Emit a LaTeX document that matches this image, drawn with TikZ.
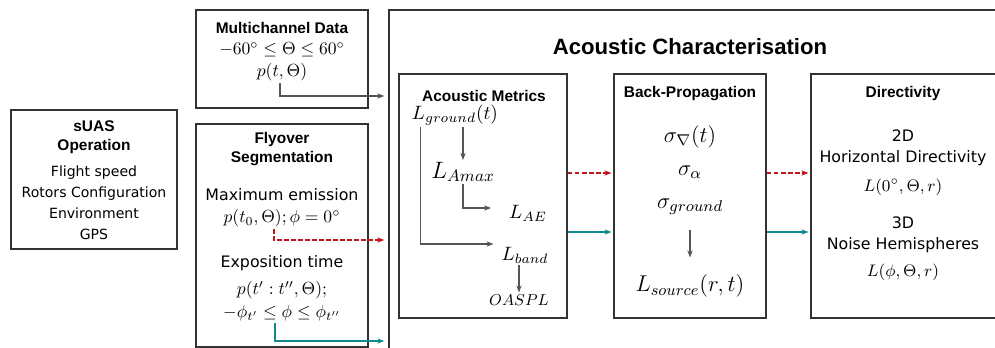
\RequirePackage{fix-cm}
\documentclass[tikz,border=0pt]{standalone}
\usepackage{amsmath}
\usepackage{fontspec}
\setmainfont{DejaVu Sans}
\newfontfamily\headfont{Liberation Sans}
\usepackage{tikz}
\usetikzlibrary{arrows.meta,positioning,fit,calc}
\definecolor{boxgray}{HTML}{333333}
\definecolor{arrowgray}{HTML}{555555}
\definecolor{dashred}{HTML}{C0161C}
\definecolor{tealline}{HTML}{128A8C}

\begin{document}
\begin{tikzpicture}[x=0.02cm, y=-0.02cm,
  box/.style={draw=boxgray, line width=0.9pt, inner sep=0pt},
  outerbox/.style={draw=boxgray, line width=0.8pt, inner sep=0pt},
  innerbox/.style={draw=boxgray, line width=0.6pt, inner sep=0pt},
  bighead/.style={font=\headfont\bfseries\fontsize{12.6}{15}\selectfont, inner sep=1pt},
  head/.style={font=\headfont\bfseries\fontsize{8.8}{10.8}\selectfont, align=center, inner sep=1pt},
  smallbody/.style={font=\fontsize{8}{12}\selectfont, align=center, inner sep=1pt},
  body/.style={font=\fontsize{9}{12}\selectfont, align=center, inner sep=1pt},
  eq/.style={font=\fontsize{10}{12}\selectfont, inner sep=1pt},
  bigeq/.style={font=\fontsize{13}{15}\selectfont, inner sep=1pt},
  arr/.style={line width=0.6pt, draw=arrowgray, -{Stealth[length=4pt,width=3pt]}},
  redarr/.style={line width=0.6pt, draw=dashred, dash pattern=on 2.8pt off 1.2pt, -{Stealth[length=4pt,width=3pt]}},
  tealarr/.style={line width=0.6pt, draw=tealline, -{Stealth[length=4pt,width=3pt]}}
]
\useasboundingbox (0,0) rectangle (995,348);

% boxes
\node[box, fit={(11,110) (177,249)}] (suas) {};
\node[box, fit={(196,10) (368,108)}] (mc) {};
\node[box, fit={(196,124) (368,347)}] (fly) {};
\node[outerbox, fit={(389,10) (1020,370)}] (ac) {};
\node[innerbox, fit={(399,74) (567,318)}] (metrics) {};
\node[innerbox, fit={(614,74) (766,318)}] (bp) {};
\node[innerbox, fit={(811,74) (1020,318)}] (dir) {};

% sUAS operation
\node[head] (suastitle) at (94,137) {sUAS\\Operation};
\node[smallbody] (suasbody) at (94,203) {Flight speed\\Rotors Configuration\\Environment\\GPS};

% multichannel data
\node[head] (mctitle) at (282,28) {Multichannel Data};
\node[eq] (mcrange) at (282,50) {$-60^\circ \leq \Theta \leq 60^\circ$};
\node[eq] (ptheta) at (282,72) {$p(t,\Theta)$};

% flyover segmentation
\node[head] (flytitle) at (282,149) {Flyover\\Segmentation};
\node[body] (maxem) at (282,195) {Maximum emission};
\node[eq] (pt0) at (282,218) {$p(t_0,\Theta);\phi=0^\circ$};
\node[body] (expo) at (282,263) {Exposition time};
\node[eq] (ptt) at (282,290) {$p(t':t'',\Theta);$};
\node[eq] (phir) at (282,313) {$-\phi_{t'} \leq \phi \leq \phi_{t''}$};

\draw[arr, shorten >=0.8mm] ([xshift=-0.4mm]ptheta.south) |- (ac.west |- 0,96);
\draw[redarr, shorten >=0.8mm] ([xshift=-1.6mm]pt0.south) |- (ac.west |- 0,240);
\draw[tealarr, shorten >=0.8mm] ([xshift=-1.4mm]phir.south) |- (ac.west |- 0,341);

% acoustic characterisation
\node[bighead] (actitle) at (690,47) {Acoustic Characterisation};

\node[head] (mettitle) at (484,96) {Acoustic Metrics};
\node[font=\fontsize{11}{13}\selectfont, inner sep=1pt] (lground) at (455,115) {$L_{ground}(t)$};
\node[font=\fontsize{13.5}{15}\selectfont, inner sep=1pt] (lamax) at (463,172) {$L_{Amax}$};
\node[font=\fontsize{11}{13}\selectfont, inner sep=1pt] (lae) at (528,213) {$L_{AE}$};
\node[font=\fontsize{11}{13}\selectfont, inner sep=1pt] (lband) at (525,255) {$L_{band}$};
\node[font=\fontsize{9}{11}\selectfont, inner sep=1pt] (oaspl) at (519,300) {$OASPL$};

\draw[arr] (lamax.north |- lground.south) -- (lamax.north);
\draw[arr, shorten >=3.2mm] (lamax.south) |- ([yshift=1mm]lae.west);
\draw[arr, shorten >=1.2mm] ([xshift=2.2mm]lground.south west) |- ([yshift=2.2mm]lband.west);
\draw[arr] (oaspl.north |- lband.south) -- (oaspl.north);

\node[head] (bptitle) at (690,94) {Back-Propagation};
\node[font=\fontsize{12.7}{15}\selectfont, inner sep=1pt] (sgrad) at (690,137) {$\sigma_{\nabla}(t)$};
\node[font=\fontsize{12.7}{15}\selectfont, inner sep=1pt] (salpha) at (690,172) {$\sigma_{\alpha}$};
\node[font=\fontsize{12.7}{15}\selectfont, inner sep=1pt] (sground) at (690,207) {$\sigma_{ground}$};
\node[bigeq] (lsource) at (690,286) {$L_{source}(r,t)$};
\draw[arr, shorten <=2.5mm, shorten >=3mm] (sground.south) -- (lsource.north);

\node[head] (dirtitle) at (903,94) {Directivity};
\node[body] (twod) at (903,148) {2D\\Horizontal Directivity};
\node[font=\fontsize{9.5}{11}\selectfont, inner sep=1pt] (lzero) at (903,187) {$L(0^\circ,\Theta,r)$};
\node[body] (threed) at (903,235) {3D\\Noise Hemispheres};
\node[font=\fontsize{9.5}{11}\selectfont, inner sep=1pt] (lphi) at (903,272) {$L(\phi,\Theta,r)$};

\draw[redarr, shorten >=0.4mm] (metrics.east |- 0,173) -- (bp.west |- 0,173);
\draw[tealarr, shorten >=0.4mm] (metrics.east |- 0,232) -- (bp.west |- 0,232);
\draw[redarr, shorten >=0.4mm] (bp.east |- 0,173) -- (dir.west |- 0,173);
\draw[tealarr, shorten >=0.4mm] (bp.east |- 0,232) -- (dir.west |- 0,232);
\end{tikzpicture}
\end{document}
